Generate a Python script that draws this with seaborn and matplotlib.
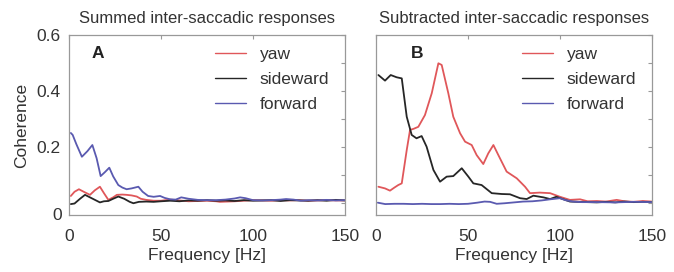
import numpy as np
import pandas as pd
import matplotlib
matplotlib.use("Agg")
import matplotlib.pyplot as plt
import seaborn as sns

# ---------------- data ----------------
series_names = ["yaw", "sideward", "forward"]
colors = {"yaw": "#e0575a", "sideward": "#262626", "forward": "#5a5ab0"}

# Panel A: summed inter-saccadic responses
a_yaw_f = [1, 3, 5.4, 8, 11.4, 14, 16.8, 19, 21.4, 24, 26, 29, 31.3, 34, 36.8, 39, 42, 46, 50, 55,
           60, 65, 70, 75, 80, 82, 86, 90, 95, 100, 105, 110, 115, 120, 125, 130, 135, 140, 145, 150]
a_yaw_v = [0.025, 0.04, 0.049, 0.04, 0.029, 0.045, 0.058, 0.035, 0.011, 0.02, 0.029, 0.03, 0.029,
           0.027, 0.023, 0.015, 0.011, 0.008, 0.008, 0.012, 0.009, 0.006, 0.007, 0.008, 0.006, 0.004,
           0.005, 0.006, 0.008, 0.01, 0.009, 0.008, 0.01, 0.009, 0.01, 0.008, 0.009, 0.01, 0.009, 0.009]

a_side_f = [1, 3, 6, 8.7, 12, 16.8, 19, 21.4, 24, 26.8, 30, 33, 35, 38, 42, 46, 50, 55, 60, 65, 70,
            75, 80, 85, 90, 95, 100, 105, 110, 115, 120, 125, 130, 135, 140, 145, 150]
a_side_v = [-0.004, -0.002, 0.015, 0.029, 0.018, 0.002, 0.006, 0.007, 0.015, 0.023, 0.015, 0.004,
            -0.001, 0.004, 0.005, 0.004, 0.006, 0.008, 0.006, 0.009, 0.008, 0.01, 0.008, 0.009, 0.007,
            0.01, 0.008, 0.009, 0.01, 0.007, 0.01, 0.009, 0.008, 0.01, 0.008, 0.011, 0.009]

a_fwd_f = [1, 2, 4, 7, 10, 12.7, 15, 17.2, 19.5, 21.9, 24, 26.8, 29, 31.3, 34, 37.7, 40, 43, 46,
           49.5, 52, 55, 58, 61, 65, 70, 75, 80, 85, 90, 93, 96, 100, 105, 110, 115, 118, 122, 126,
           130, 135, 140, 145, 150]
a_fwd_v = [0.25, 0.243, 0.21, 0.165, 0.185, 0.207, 0.16, 0.096, 0.11, 0.126, 0.095, 0.064, 0.055,
           0.049, 0.052, 0.058, 0.04, 0.025, 0.022, 0.025, 0.018, 0.013, 0.012, 0.02, 0.015, 0.011,
           0.01, 0.01, 0.012, 0.016, 0.02, 0.017, 0.01, 0.009, 0.01, 0.012, 0.014, 0.012, 0.008, 0.01,
           0.009, 0.011, 0.009, 0.01]

# Panel B: subtracted inter-saccadic responses
b_yaw_f = [1.3, 4.9, 7.6, 10, 12.1, 14, 16.7, 18.5, 20.5, 23, 26.6, 30.3, 33.9, 35.7, 39.3, 42,
           45.7, 48.4, 52, 54.7, 58.3, 61, 63.8, 66.5, 71, 76.5, 81, 83.7, 89, 94.6, 100, 105.4,
           110.9, 115, 120, 125, 130.8, 135, 140, 145, 150]
b_yaw_v = [0.058, 0.052, 0.044, 0.055, 0.064, 0.070, 0.189, 0.261, 0.265, 0.272, 0.314, 0.392,
           0.499, 0.493, 0.392, 0.308, 0.249, 0.219, 0.207, 0.171, 0.139, 0.177, 0.207, 0.171,
           0.112, 0.088, 0.058, 0.035, 0.037, 0.035, 0.022, 0.011, 0.013, 0.006, 0.007, 0.005,
           0.011, 0.006, 0.004, 0.007, 0.005]

b_side_f = [1.3, 4.9, 8, 11.2, 14, 16.7, 19.4, 22, 24.8, 27.5, 31.2, 34.8, 38.4, 42, 46.6, 50.2,
            52.9, 57.4, 62.9, 68.3, 72.8, 78.3, 81.9, 85.5, 91, 94.6, 98, 101, 105.4, 110, 115,
            120, 125, 130, 135, 140, 145, 150]
b_side_v = [0.457, 0.437, 0.457, 0.449, 0.445, 0.308, 0.243, 0.231, 0.239, 0.201, 0.118, 0.076,
            0.094, 0.096, 0.124, 0.094, 0.070, 0.064, 0.035, 0.032, 0.031, 0.017, 0.014, 0.026,
            0.02, 0.014, 0.022, 0.015, 0.005, 0.004, 0.003, 0.002, 0.004, 0.002, 0.005, 0.003,
            0.004, 0.003]

b_fwd_f = [1, 5, 10, 15, 20, 25, 30, 35, 40, 45, 50, 55, 59, 62, 65.6, 70, 75, 80, 85, 90, 94.6,
           100, 103, 107, 112, 120, 130, 140, 150]
b_fwd_v = [0.001, -0.004, -0.003, -0.003, -0.004, -0.003, -0.004, -0.004, -0.003, -0.004, -0.003,
           0.001, 0.005, 0.004, -0.003, -0.001, 0.002, 0.005, 0.006, 0.009, 0.013, 0.017, 0.01,
           0.005, 0.003, 0.003, 0.002, 0.004, 0.003]

panel_titles = ["Summed inter-saccadic responses", "Subtracted inter-saccadic responses"]
panel_letters = ["A", "B"]
x_ticks = [0, 50, 100, 150]
y_ticks_labelled = [0.2, 0.4, 0.6]
x_label = "Frequency [Hz]"
y_label = "Coherence"


def long_df(parts):
    rows = []
    for name, f, v in parts:
        for fi, vi in zip(f, v):
            rows.append({"Frequency": fi, "Coherence": vi, "series": name})
    return pd.DataFrame(rows)


df_a = long_df([("yaw", a_yaw_f, a_yaw_v), ("sideward", a_side_f, a_side_v),
                ("forward", a_fwd_f, a_fwd_v)])
df_b = long_df([("yaw", b_yaw_f, b_yaw_v), ("sideward", b_side_f, b_side_v),
                ("forward", b_fwd_f, b_fwd_v)])

# ---------------- style ----------------
sns.set_style("white")
plt.rcParams["font.family"] = ["Liberation Sans", "DejaVu Sans"]
plt.rcParams["text.color"] = "#333333"
plt.rcParams["axes.labelcolor"] = "#333333"

W, H = 674, 272
fig = plt.figure(figsize=(W / 100, H / 100), dpi=100)

def px_axes(left, top, right, bottom):
    return fig.add_axes([left / W, 1 - bottom / H, (right - left) / W, (bottom - top) / H])

ax_a = px_axes(69, 35, 345, 215)
ax_b = px_axes(376, 35, 652, 215)

y_bottom = -0.043
for i, (ax, df) in enumerate([(ax_a, df_a), (ax_b, df_b)]):
    sns.lineplot(data=df, x="Frequency", y="Coherence", hue="series", hue_order=series_names,
                 palette=colors, ax=ax, linewidth=1.3, sort=False, estimator=None)
    ax.set_xlim(0, 150)
    ax.set_ylim(y_bottom, 0.6)
    ax.set_xticks(x_ticks)
    ax.set_xticklabels([str(t) for t in x_ticks], fontsize=12.5, color="#333333")
    ax.set_yticks([0.0, 0.1, 0.2, 0.3, 0.4, 0.5, 0.6])
    ax.tick_params(direction="in", length=3, width=0.8, color="#999999",
                   top=True, right=True, pad=6)
    ax.tick_params(axis="x", pad=10)
    for s in ax.spines.values():
        s.set_color("#999999")
        s.set_linewidth(0.9)
    ax.set_xlabel(x_label, fontsize=12.5, labelpad=3)
    ax.set_title(panel_titles[i], fontsize=12, pad=9, color="#333333")
    ax.text(0.105 if i == 0 else 0.149, 0.9, panel_letters[i], transform=ax.transAxes,
            fontsize=12.5, fontweight="bold", ha="center", va="center", color="#222222")
    leg = ax.legend(frameon=False, fontsize=12.5, loc="upper right",
                    bbox_to_anchor=(1.0, 1.02), handlelength=1.8, handletextpad=0.8,
                    labelspacing=0.55, borderaxespad=0.5)
    for line in leg.get_lines():
        line.set_linewidth(1.0)
    if i == 0:
        labels = []
        for t in ax.get_yticks():
            if any(abs(t - v) < 1e-9 for v in y_ticks_labelled):
                labels.append(f"{t:.1f}")
            else:
                labels.append("")
        ax.set_yticklabels(labels, fontsize=12.5, color="#333333")
        ax.text(-0.025, 0.0, "0", transform=ax.transAxes, ha="right", va="center",
                fontsize=12.5, color="#333333")
        ax.set_ylabel(y_label, fontsize=12.5, labelpad=5)
    else:
        ax.set_yticklabels([])
        ax.set_ylabel("")

fig.savefig("out.png", dpi=100)
